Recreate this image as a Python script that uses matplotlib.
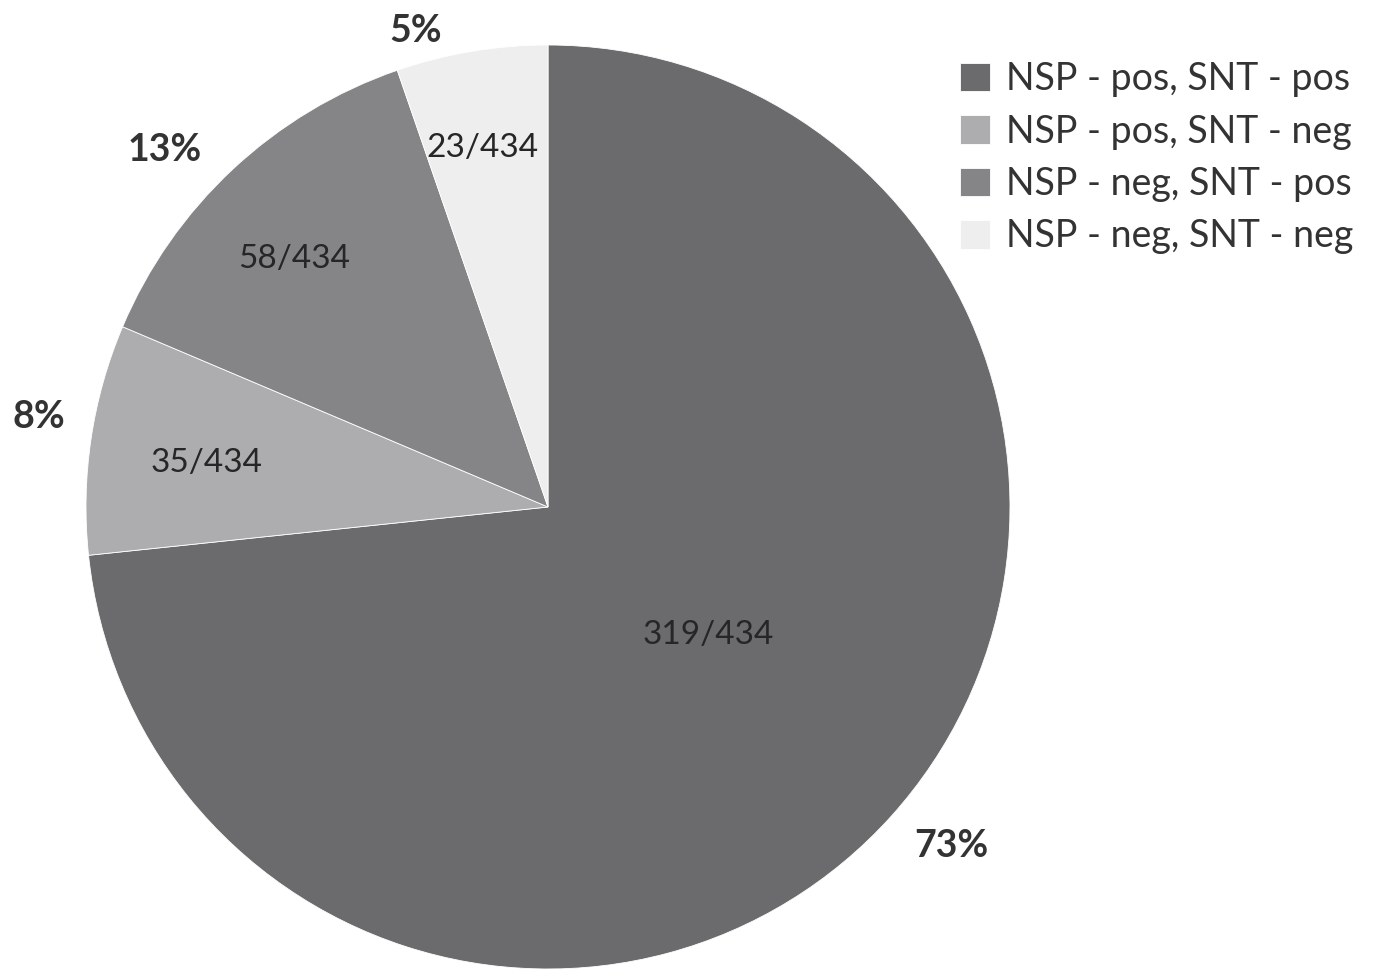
import numpy as np
import matplotlib
matplotlib.use("Agg")
import matplotlib.pyplot as plt

plt.rcParams["font.family"] = ["Lato", "DejaVu Sans"]

labels = ["NSP - pos, SNT - pos", "NSP - pos, SNT - neg",
          "NSP - neg, SNT - pos", "NSP - neg, SNT - neg"]
counts = [319, 35, 58, 23]
total = 434
pct_text = ["73%", "8%", "13%", "5%"]
colors = ["#6b6b6d", "#adadaf", "#858587", "#eeeeee"]

# label placement (radius as fraction of pie radius, angle nudge in degrees)
inner_r = [0.444, 0.745, 0.768, 0.79]
inner_nudge = [3.3, 1.2, 2.7, 0.8]
outer_r = [1.14, 1.12, 1.135, 1.07]
outer_nudge = [2.0, -1.5, 4.0, 6.0]

fig = plt.figure(figsize=(13.74, 9.69), dpi=100)
ax = fig.add_axes([86 / 1374, 0.0, 924 / 1374, 924 / 969])
wedges, _ = ax.pie(counts, colors=colors, startangle=90, counterclock=False,
                   radius=1.0, wedgeprops=dict(edgecolor="white", linewidth=0.6))
ax.set_xlim(-1, 1)
ax.set_ylim(-1, 1)
ax.set_aspect("equal")
ax.axis("off")

for i, w in enumerate(wedges):
    mid = np.deg2rad((w.theta1 + w.theta2) / 2)
    a = mid + np.deg2rad(inner_nudge[i])
    ax.text(inner_r[i] * np.cos(a), inner_r[i] * np.sin(a),
            f"{counts[i]}/{total}", ha="center", va="center",
            fontsize=24, color="#262626")
    a = mid + np.deg2rad(outer_nudge[i])
    ax.text(outer_r[i] * np.cos(a), outer_r[i] * np.sin(a), pct_text[i],
            ha="center", va="center", fontsize=27, fontweight="bold",
            color="#333333", clip_on=False)

fig.legend(wedges, labels, loc="upper left", bbox_to_anchor=(960 / 1374, 1 - 61 / 969),
           frameon=False, fontsize=27, borderpad=0, borderaxespad=0,
           handlelength=0.8, handleheight=0.8, handletextpad=0.42,
           labelspacing=0.44, labelcolor="#333333")

fig.savefig("out.png", dpi=100)
